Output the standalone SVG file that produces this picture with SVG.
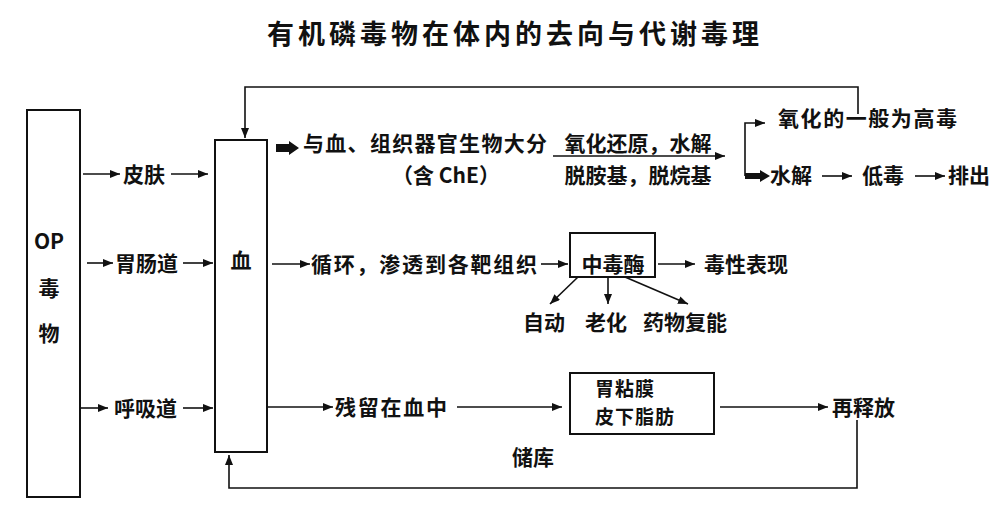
<svg xmlns="http://www.w3.org/2000/svg" width="1000" height="519" viewBox="0 0 1000 519">
<style>
text{font-family:"Noto Sans CJK SC","Noto Sans",sans-serif;font-weight:bold;fill:#111;font-size:21px}
.title{font-size:27px;letter-spacing:4px}
.small{font-size:19px;letter-spacing:1px}
.box{fill:#fff;stroke:#111;stroke-width:2}
.ln{fill:none;stroke:#111;stroke-width:1.6}
.ar{fill:none;stroke:#111;stroke-width:1.6;marker-end:url(#ah)}
.thick{fill:#111}
.mid{text-anchor:middle}
</style>
<defs>
<marker id="ah" viewBox="0 0 10 8" refX="10" refY="4" markerWidth="10" markerHeight="8" markerUnits="userSpaceOnUse" orient="auto"><path d="M0,0 L10,4 L0,8 z" fill="#111"/></marker>
</defs>
<rect width="1000" height="519" fill="#fff"/>
<text class="title" x="267" y="44">有机磷毒物在体内的去向与代谢毒理</text>

<g id="op">
<rect class="box" x="27" y="110" width="53" height="387"/>
<text class="mid" x="49" y="249">OP</text>
<text class="mid" x="49" y="296">毒</text>
<text class="mid" x="49" y="341">物</text>
</g>
<g id="blood">
<rect class="box" x="215" y="140" width="52" height="312"/>
<text class="mid" x="241" y="268">血</text>
</g>
<g id="skin"><text x="123" y="182">皮肤</text></g>
<g id="gi"><text x="115" y="271">胃肠道</text></g>
<g id="resp"><text x="114" y="416">呼吸道</text></g>

<g id="bind">
<text x="303" y="151" textLength="244" lengthAdjust="spacing">与血、组织器官生物大分</text>
<text class="mid" x="446" y="183">（含 ChE）</text>
</g>
<g id="metab">
<text class="mid" x="638" y="151">氧化还原，水解</text>
<text class="mid" x="638" y="183">脱胺基，脱烷基</text>
</g>
<g id="oxid"><text x="778" y="126" textLength="179" lengthAdjust="spacing">氧化的一般为高毒</text></g>
<g id="hydro"><text x="770" y="183">水解</text></g>
<g id="lowtox"><text x="862" y="183">低毒</text></g>
<g id="excrete"><text x="948" y="183">排出</text></g>

<g id="circ"><text x="311" y="272" textLength="226" lengthAdjust="spacing">循环，渗透到各靶组织</text></g>
<g id="enzyme">
<rect class="box" x="570" y="233" width="85" height="44"/>
<text class="mid" x="613" y="272">中毒酶</text>
</g>
<g id="symptom"><text x="704" y="272">毒性表现</text></g>
<g id="auto"><text x="523" y="330">自动</text></g>
<g id="aging"><text x="585" y="330">老化</text></g>
<g id="react"><text x="643" y="330">药物复能</text></g>

<g id="residue"><text x="335" y="415" textLength="112" lengthAdjust="spacing">残留在血中</text></g>
<g id="store">
<rect class="box" x="570" y="373" width="144" height="61"/>
<text class="small" x="595" y="396">胃粘膜</text>
<text class="small" x="595" y="424">皮下脂肪</text>
</g>
<g id="storelabel"><text x="512" y="465">储库</text></g>
<g id="release"><text x="832" y="415">再释放</text></g>

<g id="connectors">
<line class="ar" x1="83" y1="174" x2="120" y2="174"/>
<line class="ar" x1="171" y1="174" x2="208" y2="174"/>
<line class="ar" x1="87" y1="263" x2="113" y2="263"/>
<line class="ar" x1="183" y1="263" x2="213" y2="263"/>
<line class="ar" x1="80" y1="408" x2="108" y2="408"/>
<line class="ar" x1="183" y1="408" x2="213" y2="408"/>
<path class="ar" d="M858,114 L858,87 L245,87 L245,138"/>
<polygon class="thick" points="276,144 289,144 289,141 299,148 289,155 289,152 276,152"/>
<line class="ar" x1="553" y1="156" x2="725" y2="156"/>
<path class="ar" d="M745,176 L745,123 L765,123"/>
<polygon class="thick" points="745,173 760,173 760,170 770,176 760,182 760,179 745,179"/>
<line class="ar" x1="822" y1="176" x2="852" y2="176"/>
<line class="ar" x1="915" y1="176" x2="945" y2="176"/>
<line class="ar" x1="272" y1="264" x2="310" y2="264"/>
<line class="ar" x1="541" y1="264" x2="568" y2="264"/>
<line class="ar" x1="658" y1="264" x2="695" y2="264"/>
<line class="ar" x1="578" y1="277" x2="550" y2="304"/>
<line class="ar" x1="608" y1="277" x2="608" y2="304"/>
<line class="ar" x1="625" y1="277" x2="688" y2="304"/>
<line class="ar" x1="267" y1="407" x2="333" y2="407"/>
<line class="ar" x1="457" y1="407" x2="562" y2="407"/>
<line class="ar" x1="720" y1="407" x2="828" y2="407"/>
<path class="ar" d="M857,420 L857,488 L229,488 L229,455"/>
</g>
</svg>
